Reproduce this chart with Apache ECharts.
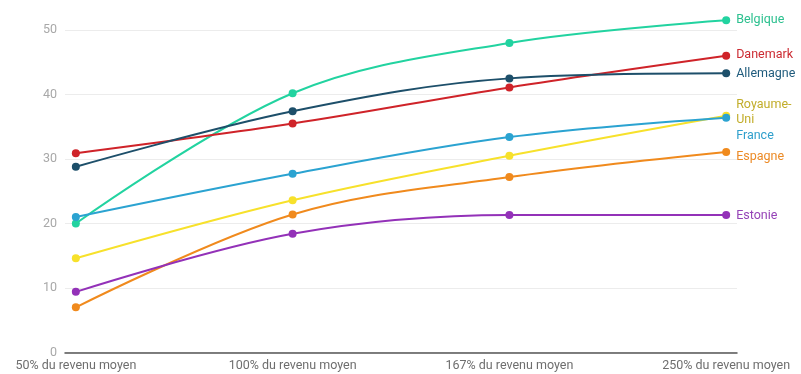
<!DOCTYPE html>
<html>
<head>
<meta charset="utf-8">
<script src="https://cdn.jsdelivr.net/npm/echarts@6/dist/echarts.min.js"></script>
<style>
  html, body { margin: 0; padding: 0; background: #fff; }
  #chart { width: 801px; height: 374px; }
</style>
</head>
<body>
<div id="chart"></div>
<script>
// Income levels along the x axis
const categories = ['50% du revenu moyen', '100% du revenu moyen', '167% du revenu moyen', '250% du revenu moyen'];
const yTicks = [0, 10, 20, 30, 40, 50];

// One array per country
const belgique  = [20.0, 40.2, 48.0, 51.5];
const danemark  = [30.9, 35.5, 41.1, 46.0];
const allemagne = [28.8, 37.4, 42.5, 43.3];
const royaumeUni = [14.6, 23.6, 30.5, 36.7];
const france    = [21.0, 27.7, 33.4, 36.4];
const espagne   = [7.0, 21.4, 27.2, 31.1];
const estonie   = [9.4, 18.4, 21.3, 21.3];

const countries = [
  { name: 'Belgique',    label: 'Belgique',      values: belgique,   color: '#22d3a0', text: '#2cc08f', dy: 0 },
  { name: 'Danemark',    label: 'Danemark',      values: danemark,   color: '#cf2329', text: '#cc2b32', dy: -1 },
  { name: 'Allemagne',   label: 'Allemagne',     values: allemagne,  color: '#1d4f6a', text: '#1f5b7c', dy: 1 },
  { name: 'Royaume-Uni', label: 'Royaume-\nUni', values: royaumeUni, color: '#f7e12b', text: '#c2ad2a', dy: -3 },
  { name: 'France',      label: 'France',        values: france,     color: '#2ba3d1', text: '#2f9fcc', dy: 18 },
  { name: 'Espagne',     label: 'Espagne',       values: espagne,    color: '#f08a1d', text: '#ec8a25', dy: 5 },
  { name: 'Estonie',     label: 'Estonie',       values: estonie,    color: '#9331b8', text: '#9543b7', dy: 1 }
];

const chart = echarts.init(document.getElementById('chart'), null, { renderer: 'canvas' });

const FONT = 'Roboto, "Noto Sans", sans-serif';

chart.setOption({
  animation: false,
  backgroundColor: '#ffffff',
  grid: { left: 65, right: 64, top: 30, bottom: 21.5, containLabel: false },
  xAxis: {
    type: 'value',
    min: -0.05,
    max: 3.05,
    splitLine: { show: false },
    axisLine: { show: true, onZero: false, lineStyle: { color: '#555', width: 1.5 } },
    axisTick: { show: false },
    axisLabel: {
      customValues: categories.map((c, i) => i),
      formatter: v => categories[Math.round(v)],
      color: '#6e6e6e',
      fontFamily: FONT,
      fontSize: 12.5,
      margin: 7
    }
  },
  yAxis: {
    type: 'value',
    min: yTicks[0],
    max: yTicks[yTicks.length - 1],
    interval: 10,
    axisLine: { show: false },
    axisTick: { show: false },
    splitLine: { lineStyle: { color: '#ececec', width: 1 } },
    axisLabel: {
      color: '#a8a8a8',
      fontFamily: FONT,
      fontSize: 12.5,
      margin: 8
    }
  },
  series: countries.map(c => ({
    name: c.name,
    type: 'line',
    clip: false,
    smooth: 0.35,
    data: c.values.map((v, i) => [i, v]),
    symbol: 'circle',
    symbolSize: 8,
    lineStyle: { color: c.color, width: 2 },
    itemStyle: { color: c.color },
    endLabel: {
      show: true,
      formatter: () => c.label,
      color: c.text,
      fontFamily: FONT,
      fontSize: 12.5,
      lineHeight: 15,
      distance: 10,
      offset: [0, c.dy]
    },
    emphasis: { disabled: true }
  }))
});
</script>
</body>
</html>
